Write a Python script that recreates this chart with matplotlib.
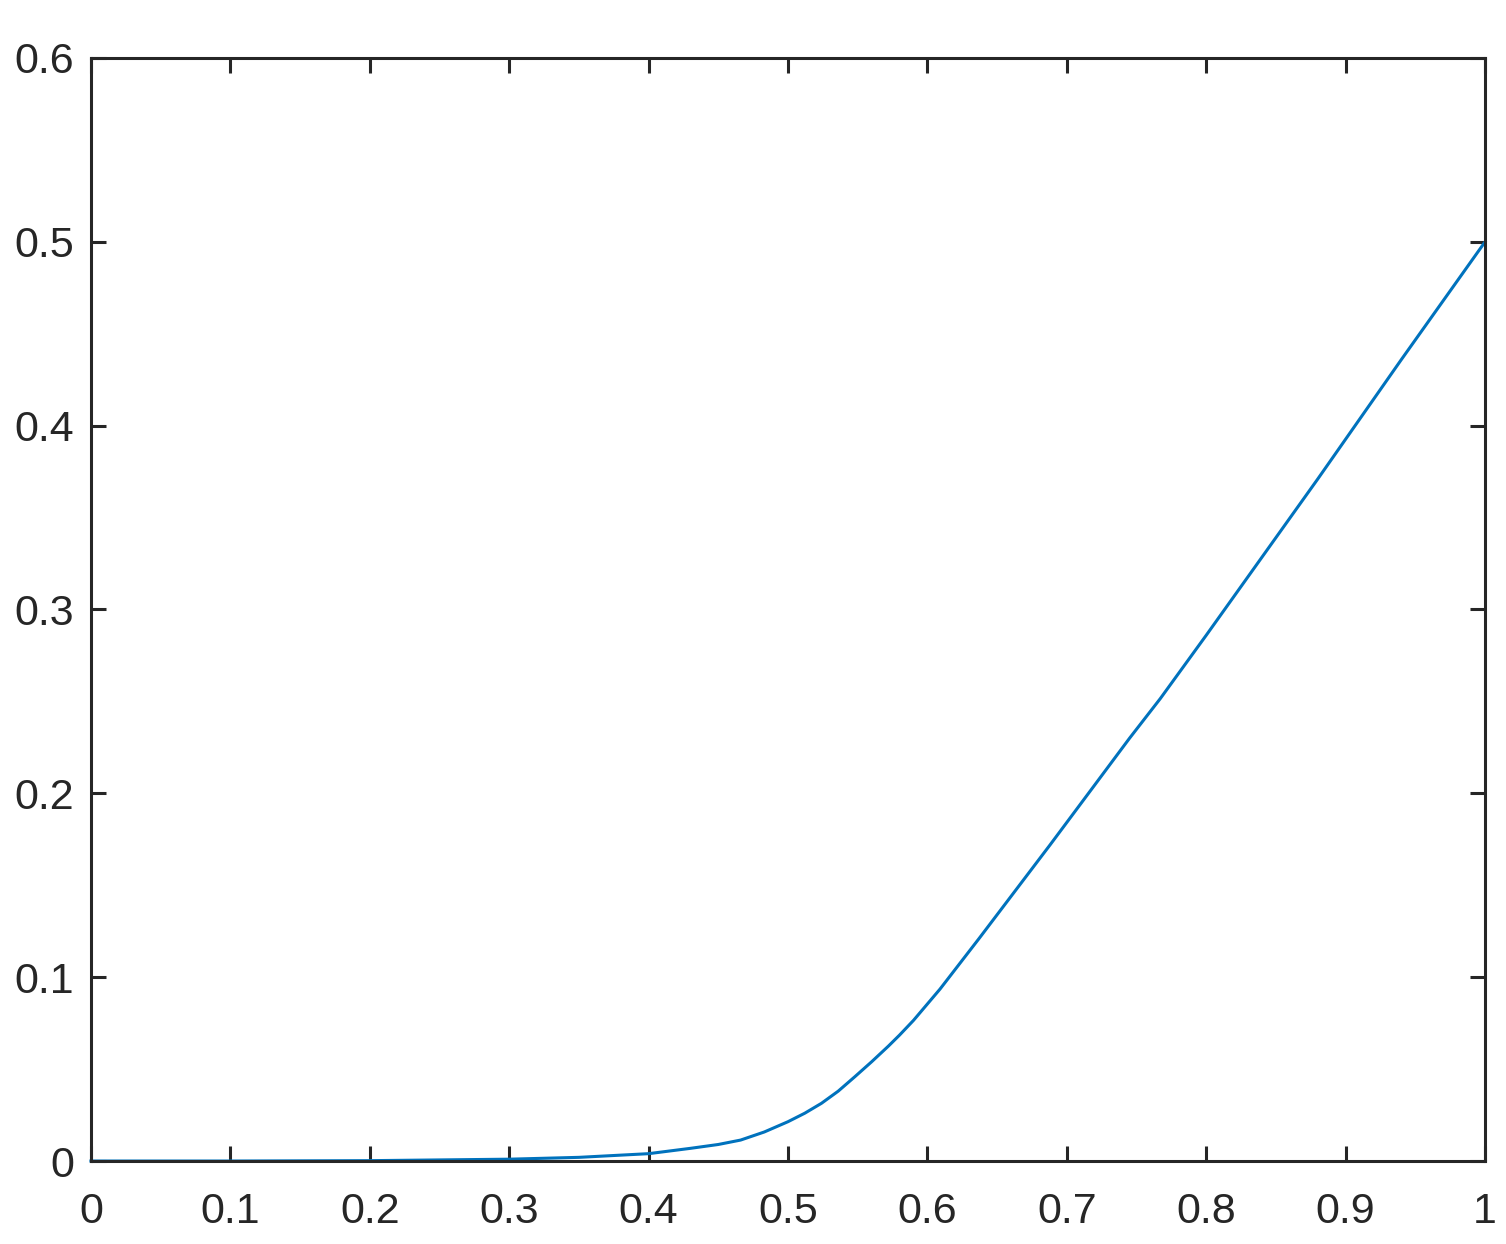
import matplotlib
matplotlib.use("Agg")
import matplotlib.pyplot as plt

# valores
x_vals = [0.0, 0.1, 0.2, 0.3, 0.35, 0.4, 0.43, 0.45, 0.466, 0.483, 0.5,
          0.512, 0.524, 0.536, 0.548, 0.56, 0.572, 0.58, 0.59, 0.609, 0.637,
          0.668, 0.688, 0.717, 0.745, 0.767, 0.8, 0.88, 0.94, 1.0]
y_vals = [0.0, 0.0, 0.0002, 0.001, 0.002, 0.004, 0.0069, 0.009, 0.0114,
          0.0158, 0.0214, 0.026, 0.0314, 0.038, 0.0459, 0.054, 0.0625,
          0.0685, 0.0765, 0.0935, 0.121, 0.152, 0.172, 0.2015, 0.230, 0.2515,
          0.286, 0.371, 0.436, 0.5]

x_ticks = [0, 0.1, 0.2, 0.3, 0.4, 0.5, 0.6, 0.7, 0.8, 0.9, 1]
x_labels = ["0", "0.1", "0.2", "0.3", "0.4", "0.5", "0.6", "0.7", "0.8", "0.9", "1"]
y_ticks = [0, 0.1, 0.2, 0.3, 0.4, 0.5, 0.6]
y_labels = ["0", "0.1", "0.2", "0.3", "0.4", "0.5", "0.6"]

plt.rcParams['font.family'] = ['Liberation Sans', 'DejaVu Sans']
dark = "#262626"

fig = plt.figure(figsize=(15.06, 12.44), dpi=100)
ax = fig.add_axes([0.0604, 0.0667, 0.9257, 0.8867])

ax.plot(x_vals, y_vals, color="#0072BD", linewidth=2.2, clip_on=False,
        solid_joinstyle="round")

ax.set_xlim(0, 1)
ax.set_ylim(0, 0.6)
ax.set_xticks(x_ticks)
ax.set_xticklabels(x_labels)
ax.set_yticks(y_ticks)
ax.set_yticklabels(y_labels)

for s in ax.spines.values():
    s.set_linewidth(2.2)
    s.set_color(dark)
ax.tick_params(direction="in", length=11, width=2.2, colors=dark,
               labelsize=31, top=True, right=True)
ax.tick_params(axis="x", pad=22)
ax.tick_params(axis="y", pad=12)

fig.savefig("out.png", dpi=100)
